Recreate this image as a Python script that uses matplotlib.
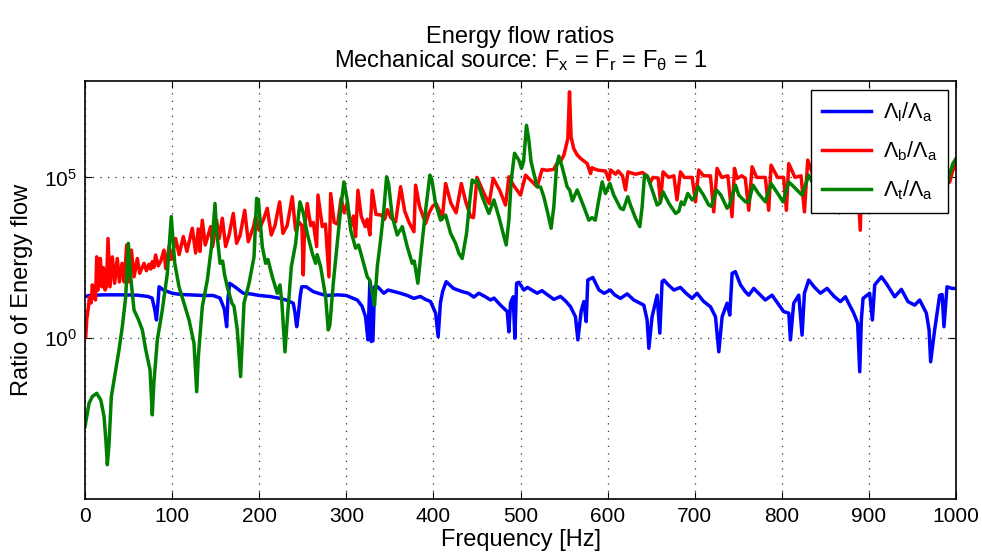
import numpy as np
import matplotlib
matplotlib.use('Agg')
import matplotlib.pyplot as plt
from matplotlib.ticker import FixedLocator, FixedFormatter

plt.rcParams['font.family'] = ['Liberation Sans', 'DejaVu Sans']
plt.rcParams['mathtext.fontset'] = 'custom'
plt.rcParams['mathtext.rm'] = 'Liberation Sans'
plt.rcParams['mathtext.it'] = 'Liberation Sans'
plt.rcParams['mathtext.bf'] = 'Liberation Sans:bold'

# Lambda_l / Lambda_a  (frequency in Hz, value as log10)
long_f = [0.5, 5, 20, 40, 60, 72, 77, 80, 82, 84, 85, 90, 100, 110, 120, 135, 147, 155, 160, 162.6,
          164, 166, 172, 181.7, 190, 200, 212, 224, 232, 239, 241, 243, 245, 247, 248.7, 254, 262,
          270, 277, 290, 300, 312.5, 318, 322, 324.8, 327, 328.6, 330.5, 332.4, 336, 343, 348, 355,
          362, 370, 377.5, 385, 390, 396.7, 402.5, 405.4, 408, 410.5, 414.6, 423, 433, 440, 446.4,
          452, 459, 465.6, 469.5, 477, 484.7, 486.6, 488.5, 491.5, 493.5, 495.4, 498, 503.8, 508,
          519, 524.6, 531, 538.2, 545.9, 552, 557.4, 563, 565.8, 569.6, 572.6, 575.3, 577.2, 583,
          590, 596, 603, 608, 614.7, 622.4, 630, 641.5, 645.3, 647.3, 651, 656.8, 659.9, 662.5,
          664.5, 670, 676, 683.5, 690, 696.9, 702.6, 710, 718, 723.8, 727.6, 731.4, 737.1, 740.2,
          742.9, 746.6, 752.5, 758, 762, 767.7, 775, 781, 788.7, 795, 802, 808, 809.8, 813.6,
          819.4, 823.2, 825.9, 830.8, 837, 844.2, 851.9, 860, 867.2, 872.9, 882.5, 887, 889.4,
          891.3, 893.2, 900.8, 903.9, 906.6, 914.3, 920, 929.5, 937.2, 944.8, 952.5, 958.2, 965.9,
          969, 970.8, 975.4, 981.2, 984, 986.1, 989.6, 995.3, 1000]
long_log = [1.30, 1.33, 1.35, 1.35, 1.34, 1.30, 1.25, 0.9, 0.57, 1.2, 1.60, 1.50, 1.40, 1.36, 1.35,
            1.33, 1.33, 1.25, 0.9, 0.36, 1.2, 1.71, 1.6, 1.40, 1.38, 1.33, 1.30, 1.24, 1.18, 1.09,
            0.8, 0.36, 0.77, 1.3, 1.60, 1.60, 1.45, 1.38, 1.33, 1.35, 1.33, 1.19, 1.0, 0.67, -0.05,
            1.76, -0.1, -0.08, 1.6, 1.6, 1.40, 1.50, 1.45, 1.40, 1.33, 1.24, 1.30, 1.22, 1.14, 0.78,
            0.05, 1.1, 1.45, 1.76, 1.55, 1.45, 1.40, 1.28, 1.40, 1.30, 1.19, 1.25, 1.03, 0.83, 0.2,
            1.1, 1.29, 0.0, 1.71, 1.74, 1.5, 1.58, 1.40, 1.48, 1.35, 1.21, 1.30, 1.15, 0.98, 0.67,
            -0.05, 0.85, 1.14, 0.52, 1.81, 1.89, 1.5, 1.40, 1.50, 1.35, 1.24, 1.38, 1.19, 1.03,
            0.57, -0.31, 0.67, 1.34, 0.16, 1.76, 1.81, 1.65, 1.50, 1.58, 1.40, 1.24, 1.40, 1.15,
            0.98, 0.67, -0.42, 0.67, 1.09, 0.72, 2.02, 2.07, 1.66, 1.45, 1.34, 1.55, 1.35, 1.19,
            1.34, 1.10, 0.83, 0.78, -0.05, 1.09, 1.34, 0.1, 1.40, 1.81, 1.60, 1.40, 1.55, 1.30,
            1.14, 1.29, 0.78, 0.47, -1.04, 0.6, 1.24, 1.40, 0.57, 1.66, 1.91, 1.70, 1.29, 1.52,
            1.14, 1.03, 1.19, 0.78, 0.26, -0.73, 0.26, 1.34, 1.36, 0.36, 1.60, 1.55, 1.55]

# Lambda_b / Lambda_a
bend_f = [0.8, 2, 4, 5, 7, 8.4, 10, 12, 13.4, 15, 17.6, 19.5, 21, 23, 24.5, 26.4, 28.7, 31.4, 34,
          37, 39.5, 42.5, 45, 47.8, 50.5, 53.2, 56.3, 60, 62.7, 67.7, 70.5, 73.4, 75.5, 77.2, 79,
          81, 84, 87, 90.6, 92.6, 96.4, 99, 104, 108, 112.8, 117, 123.1, 127, 130, 132, 134.6, 138,
          144.2, 146.5, 151, 154, 157.6, 161.4, 165.3, 170.2, 174, 178, 183.3, 187.4, 193.2, 196,
          199.7, 205.4, 209.2, 213.8, 218, 223.4, 227.2, 232, 237.9, 241.7, 246, 249, 250.5, 252,
          255.1, 259, 262, 265.9, 267.4, 272.4, 276, 280, 282, 286, 290, 294, 297.5, 301, 305,
          308, 310.6, 313.3, 317, 321.7, 324, 327, 329.7, 334, 340, 344, 347, 351, 356.6, 362.3,
          367, 372, 377.6, 379.5, 384, 391, 395, 399, 403, 408, 410, 414, 420, 426, 432, 437,
          442.6, 446, 450, 458, 463.9, 468.6, 476, 482.8, 486.6, 492, 500, 505.7, 512, 519, 524.8,
          530, 538, 541.6, 546, 549.7, 554.3, 556.2, 558, 561, 565, 568.9, 576.5, 580.3, 582, 586,
          590, 597.5, 601.3, 603.4, 609, 612, 617, 620.5, 623.3, 632, 640, 645, 649.2, 652, 658,
          660.6, 663.6, 670, 676, 679.6, 683.6, 688, 697, 700.8, 704.6, 710, 718, 721.8, 725.6,
          731, 738, 742.8, 745.6, 748.6, 754, 758, 762, 765.8, 771, 781, 784.9, 787.6, 795, 802,
          805.2, 807.9, 815, 822, 825.9, 829.7, 836, 842, 845.4, 849, 856, 863, 866, 869, 876,
          884, 887, 890, 892, 898, 905, 909, 912, 918, 926, 930, 933, 940, 946, 950, 953, 960,
          968, 971, 974, 980, 986, 990, 992.6, 996, 1000]
bend_log = [0.05, 0.6, 1.0, 1.29, 1.1, 1.66, 1.3, 1.19, 2.53, 1.5, 2.48, 1.6, 2.2, 1.5, 1.6, 3.10,
            1.60, 2.53, 1.71, 2.48, 1.75, 2.33, 1.75, 2.90, 1.75, 2.74, 1.91, 2.48, 2.02, 2.33, 2.1,
            2.30, 2.15, 2.38, 2.2, 2.59, 2.25, 2.4, 2.74, 2.17, 2.85, 2.45, 3.10, 2.6, 3.16, 2.7,
            3.42, 2.65, 3.4, 2.7, 3.67, 2.9, 3.47, 2.85, 3.67, 3.1, 3.73, 2.85, 3.2, 3.88, 2.95,
            3.2, 3.98, 3.0, 3.45, 3.8, 3.36, 3.73, 4.04, 3.21, 3.5, 4.24, 3.26, 3.5, 4.40, 3.36,
            3.6, 3.5, 1.97, 3.4, 4.19, 3.5, 3.6, 2.85, 4.45, 3.47, 3.55, 1.91, 4.50, 3.6, 3.55,
            4.35, 3.9, 4.2, 3.47, 3.8, 3.16, 4.6, 3.8, 3.47, 3.7, 3.21, 4.6, 3.85, 3.83, 3.7, 4.0,
            3.75, 3.62, 4.71, 3.95, 3.6, 3.31, 4.76, 4.1, 3.57, 3.9, 4.1, 4.19, 3.9, 3.7, 4.81, 4.2,
            3.9, 4.81, 4.25, 3.78, 3.75, 5.0, 4.5, 4.19, 4.97, 4.6, 4.14, 5.02, 4.75, 4.45, 5.07,
            4.9, 4.71, 5.25, 5.22, 5.25, 5.43, 5.5, 5.69, 6.21, 7.66, 6.26, 5.90, 5.7, 5.59, 5.43,
            5.12, 5.3, 5.25, 5.22, 5.2, 4.92, 5.23, 5.1, 5.2, 5.05, 4.61, 5.17, 5.1, 5.15, 5.05,
            4.86, 5.0, 4.98, 4.24, 5.17, 5.0, 5.05, 4.30, 5.17, 5.0, 5.0, 4.24, 5.23, 5.05, 5.05,
            3.93, 5.28, 5.0, 5.05, 3.78, 5.28, 4.97, 5.05, 4.97, 3.98, 5.33, 5.0, 5.0, 3.98, 5.38,
            5.0, 5.0, 3.98, 5.43, 5.0, 5.05, 3.93, 5.54, 5.05, 5.0, 3.93, 5.5, 5.05, 5.05, 3.9,
            5.5, 5.05, 5.05, 4.9, 3.36, 5.3, 5.05, 5.05, 4.0, 5.5, 5.05, 5.05, 4.0, 5.5, 5.05, 5.0,
            4.1, 5.5, 5.05, 5.05, 4.1, 5.5, 5.1, 5.05, 4.9, 4.85, 5.2, 5.4]

# Lambda_t / Lambda_a
tors_f = [0, 4.6, 8.4, 13.4, 18.1, 21.8, 24, 25.6, 27.5, 30.2, 35.2, 39, 42.8, 46.7, 49.7, 52.4,
          56.2, 61, 65.8, 69.7, 74.6, 77.2, 79, 83, 88.7, 94.5, 99, 103, 107.9, 113.6, 119.4,
          125.1, 128.2, 130, 134.6, 140.4, 146.1, 149.2, 151, 155, 158, 160, 163.3, 168.6, 171,
          174.8, 178.6, 182.5, 188.3, 194, 197, 199, 203.5, 207.3, 210, 215, 220.7, 223.8, 226,
          229.5, 233, 236.8, 241.8, 246.7, 250.5, 255.1, 260.9, 264.7, 266.5, 270.5, 276.2, 279.2,
          281, 285, 290.3, 294.2, 297.2, 301, 305, 310.6, 314, 318.3, 324, 327, 329.7, 332.4,
          335.5, 339.3, 343, 346.2, 348.5, 352.7, 358.4, 364.2, 369.9, 375.6, 378, 382.1, 386,
          391, 395.9, 398, 402.4, 408.2, 414, 419.7, 425.4, 429.2, 433, 438, 441.8, 444.5, 447,
          450, 456, 463.6, 469.4, 475, 480.9, 483.5, 486.6, 489.3, 493.1, 498, 501.1, 503.5,
          506.8, 509.5, 512, 515.3, 519, 523, 526.7, 531.3, 535.1, 538.2, 541.3, 543.9, 547.7,
          553.4, 556.5, 559.5, 565, 572.6, 578.4, 582, 585.8, 589.8, 593.7, 597.5, 602.5, 607,
          614.7, 618, 623.1, 626.2, 632, 636.9, 639.6, 642.3, 645.3, 651.1, 656.8, 660, 663.6,
          670.4, 678, 681.8, 684.5, 687.6, 692, 697, 700, 703.8, 710, 716, 719, 724.9, 730, 737.1,
          740, 746.7, 750.5, 758.2, 762, 766.9, 773, 781.1, 787.6, 794, 801.4, 807.9, 814, 823.2,
          830.8, 836, 843.4, 849, 856, 864, 870, 877, 884, 890, 897, 905, 911, 918, 926, 932, 939,
          947, 953, 960, 968, 974, 981, 988, 992.6, 996.4, 1000]
tors_log = [-2.74, -2.02, -1.81, -1.71, -1.92, -2.43, -3.2, -3.93, -3.3, -1.81, -0.98, -0.36, 0.36,
            1.29, 2.95, 1.91, 0.88, 0.6, 0.26, -0.36, -0.98, -2.38, -1.4, -0.05, 0.88, 2.02, 3.78,
            2.33, 1.60, 1.09, 0.57, -0.16, -1.66, -0.6, 0.98, 1.81, 3.05, 4.19, 3.36, 2.33, 2.4,
            2.0, 1.60, 1.09, 1.0, 0.26, -1.19, 1.09, 1.71, 2.53, 4.35, 4.3, 2.85, 2.33, 2.45, 1.91,
            1.40, 1.66, 1.1, -0.42, 0.88, 2.22, 2.95, 4.24, 3.9, 3.26, 2.64, 2.33, 2.6, 2.22, 1.29,
            0.26, 0.4, 1.71, 3.16, 4.19, 4.86, 4.3, 3.36, 2.80, 2.9, 2.48, 1.91, 1.8, 1.40, 1.03,
            2.22, 3.05, 3.98, 5.02, 4.8, 3.78, 3.21, 3.47, 2.85, 2.33, 2.4, 1.71, 2.74, 3.98, 5.07,
            4.95, 4.19, 3.67, 3.83, 3.26, 2.95, 2.64, 2.48, 3.26, 4.3, 4.92, 4.85, 4.92, 4.40,
            3.88, 4.30, 3.78, 3.16, 2.90, 3.67, 4.92, 5.75, 5.54, 5.28, 5.5, 6.62, 6.16, 5.5, 5.12,
            4.71, 4.7, 4.40, 3.88, 3.42, 4.09, 5.33, 5.66, 5.33, 4.71, 4.6, 4.27, 4.61, 4.09, 3.67,
            3.75, 3.67, 4.30, 4.86, 4.50, 4.81, 4.45, 4.04, 4.0, 4.40, 4.14, 3.73, 3.47, 4.09,
            5.07, 5.05, 4.61, 4.14, 4.2, 4.55, 4.19, 3.88, 3.95, 4.24, 4.15, 4.50, 4.3, 4.4, 4.71,
            4.45, 4.14, 4.1, 4.61, 4.45, 4.04, 4.15, 4.76, 4.45, 4.24, 4.24, 4.76, 4.5, 4.24, 4.81,
            4.55, 4.24, 4.86, 4.7, 4.45, 5.07, 4.8, 4.24, 4.9, 4.6, 4.3, 4.95, 4.6, 4.3, 4.9, 4.6,
            4.3, 4.95, 4.6, 4.3, 4.95, 4.6, 4.3, 4.95, 4.6, 4.3, 5.0, 4.6, 4.5, 5.1, 5.43, 5.59]

labels = [r'$\Lambda_l/\Lambda_a$', r'$\Lambda_b/\Lambda_a$', r'$\Lambda_t/\Lambda_a$']
colors = ['#0000ff', '#ff0000', '#008000']
xticks = list(range(0, 1001, 100))
yticks = [1e0, 1e5]
ytick_labels = [r'$10^0$', r'$10^5$']

fig = plt.figure(figsize=(9.82, 5.54), dpi=100)
ax = fig.add_axes([0.0866, 0.099, 0.887, 0.755])

series = [(long_f, long_log), (bend_f, bend_log), (tors_f, tors_log)]
for (f, lg), lab, col in zip(series, labels, colors):
    ax.semilogy(f, 10.0 ** np.array(lg), color=col, lw=2.5, label=lab)

ax.set_xlim(0, 1000)
ax.set_ylim(1e-5, 1e8)
ax.xaxis.set_major_locator(FixedLocator(xticks))
ax.yaxis.set_major_locator(FixedLocator(yticks))
ax.yaxis.set_major_formatter(FixedFormatter(ytick_labels))
ax.yaxis.set_minor_locator(FixedLocator([]))
ax.tick_params(which='both', direction='in', top=True, right=True, length=5,
               width=0.8, labelsize=15, pad=6)
# MATLAB-style sparse dotted grid
ax.grid(True, linestyle=(0, (1, 5)), color='#333333', linewidth=0.9)
for s in ax.spines.values():
    s.set_linewidth(1.2)

ax.set_xlabel('Frequency [Hz]', fontsize=17, labelpad=2)
ax.set_ylabel('Ratio of Energy flow', fontsize=17, labelpad=8)
ax.set_title('Energy flow ratios\nMechanical source: F$_x$ = F$_r$ = F$_\\theta$ = 1',
             fontsize=17, pad=10, linespacing=1.0)

leg = ax.legend(loc='upper right', bbox_to_anchor=(0.991, 0.978), borderaxespad=0,
                fontsize=15.5, handlelength=2.3, labelspacing=0.7, fancybox=False,
                framealpha=1, edgecolor='black', borderpad=0.5, handletextpad=0.55)
leg.get_frame().set_linewidth(1.0)

fig.savefig('out.png', dpi=100)
